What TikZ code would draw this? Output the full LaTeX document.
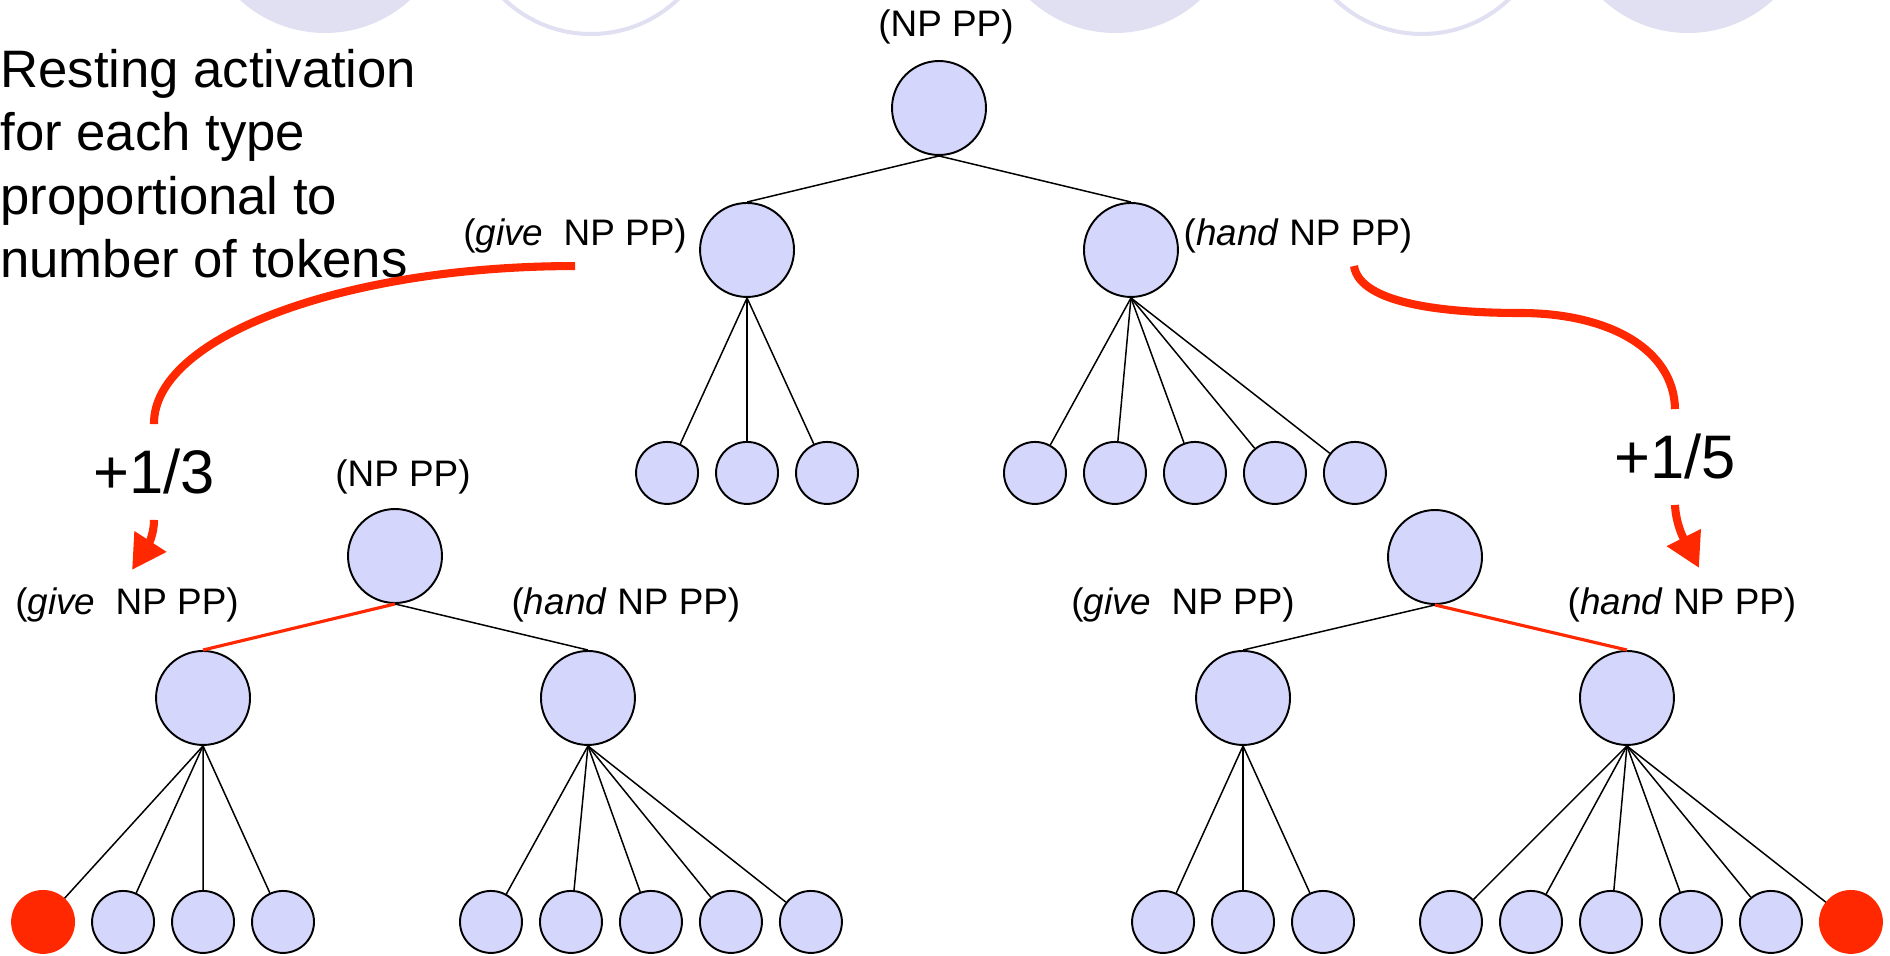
\documentclass[tikz,border=0pt]{standalone}
\usepackage{fontspec}
\setmainfont{Liberation Sans}
\usetikzlibrary{positioning,arrows.meta}

\definecolor{lav}{RGB}{213,214,251}
\definecolor{hotred}{RGB}{255,40,0}
\definecolor{ghost}{RGB}{224,224,242}

\tikzset{
  unit/.style={circle, draw, fill=lav, line width=1.1pt, inner sep=0pt, minimum size=1.88cm},
  leaf/.style={unit, minimum size=1.24cm},
  hotleaf/.style={leaf, draw=hotred, fill=hotred},
  lab/.style={inner sep=0.25cm, font=\fontsize{21}{25}\selectfont},
  gain/.style={inner sep=0.5cm, font=\fontsize{35}{42}\selectfont},
  link/.style={line width=0.85pt},
  hot/.style={draw=hotred, line width=1.8pt},
  flow/.style={draw=hotred, line width=4.6pt},
}

\begin{document}
\begin{tikzpicture}[x=0.02cm, y=-0.02cm, on grid, node distance=1.6cm]
  \useasboundingbox (0,0) rectangle (1890,956);

  % faded units along the top edge
  \fill[ghost] (325,-93) circle (126);
  \fill[ghost] (1115,-93) circle (126);
  \fill[ghost] (1688,-93) circle (126);
  \draw[ghost, line width=2.3pt] (591,-92) circle (126);
  \draw[ghost, line width=2.3pt] (1422,-92) circle (126);

  \node[anchor=north west, inner sep=0pt, align=left, font=\fontsize{30}{36}\selectfont] (note) at (0,49)
    {Resting activation\\for each type\\proportional to\\number of tokens};

  % top tree
  \node[lab] (tnp) at (946,27) {(NP PP)};
  \node[unit] (t) at (939,108) {};
  \node[unit, below left=2.84cm and 3.84cm of t] (tg) {};
  \node[unit, below right=2.84cm and 3.84cm of t] (th) {};
  \node[leaf, below left=4.46cm and 1.6cm of tg] (tg1) {};
  \node[leaf, right=of tg1] (tg2) {};
  \node[leaf, right=of tg2] (tg3) {};
  \node[leaf, below left=4.46cm and 1.92cm of th] (th1) {};
  \node[leaf, right=of th1] (th2) {};
  \node[leaf, right=of th2] (th3) {};
  \node[leaf, right=of th3] (th4) {};
  \node[leaf, right=of th4] (th5) {};
  \node[lab] (tgive) at (575,236) {(\textit{give}\ \ NP PP)};
  \node[lab] (thand) at (1298,236) {(\textit{hand} NP PP)};

  % after give
  \node[lab] (anp) at (403,477) {(NP PP)};
  \node[unit] (a) at (395,556) {};
  \node[unit, below left=2.84cm and 3.84cm of a] (ag) {};
  \node[unit, below right=2.84cm and 3.86cm of a] (ah) {};
  \node[hotleaf, below left=4.48cm and 3.2cm of ag] (ag1) {};
  \node[leaf, right=of ag1] (ag2) {};
  \node[leaf, right=of ag2] (ag3) {};
  \node[leaf, right=of ag3] (ag4) {};
  \node[leaf, below left=4.48cm and 1.94cm of ah] (ah1) {};
  \node[leaf, right=of ah1] (ah2) {};
  \node[leaf, right=of ah2] (ah3) {};
  \node[leaf, right=of ah3] (ah4) {};
  \node[leaf, right=of ah4] (ah5) {};
  \node[lab] (agive) at (127,605) {(\textit{give}\ \ NP PP)};
  \node[lab] (ahand) at (626,605) {(\textit{hand} NP PP)};

  % after hand
  \node[unit] (b) at (1435,557) {};
  \node[unit, below left=2.82cm and 3.84cm of b] (bg) {};
  \node[unit, below right=2.82cm and 3.84cm of b] (bh) {};
  \node[leaf, below left=4.48cm and 1.6cm of bg] (bg1) {};
  \node[leaf, right=of bg1] (bg2) {};
  \node[leaf, right=of bg2] (bg3) {};
  \node[leaf, below left=4.48cm and 3.52cm of bh] (bh1) {};
  \node[leaf, right=of bh1] (bh2) {};
  \node[leaf, right=of bh2] (bh3) {};
  \node[leaf, right=of bh3] (bh4) {};
  \node[leaf, right=of bh4] (bh5) {};
  \node[hotleaf, right=of bh5] (bh6) {};
  \node[lab] (bgive) at (1183,605) {(\textit{give}\ \ NP PP)};
  \node[lab] (bhand) at (1682,605) {(\textit{hand} NP PP)};

  \path[link]
    (t.south) edge (tg.north) edge (th.north)
    (tg.south) edge (tg1) edge (tg2) edge (tg3)
    (th.south) edge (th1) edge (th2) edge (th3) edge (th4) edge (th5)
    (a.south) edge[hot] (ag.north) edge (ah.north)
    (ag.south) edge (ag1) edge (ag2) edge (ag3) edge (ag4)
    (ah.south) edge (ah1) edge (ah2) edge (ah3) edge (ah4) edge (ah5)
    (b.south) edge (bg.north) edge[hot] (bh.north)
    (bg.south) edge (bg1) edge (bg2) edge (bg3)
    (bh.south) edge (bh1) edge (bh2) edge (bh3) edge (bh4) edge (bh5) edge (bh6);

  % activation boosts
  \node[gain] (p3) at (154,472) {+1/3};
  \node[gain] (p5) at (1675,457) {+1/5};
  \draw[flow] (tgive.south) .. controls (344,266) and (153,337) .. (p3.north);
  \draw[flow, -{Triangle[length=0.68cm, width=0.72cm]}]
    (p3.south) .. controls (154,540) and (143,553) .. ([shift={(5,-5)}]agive.north);
  \draw[flow] (thand.south) ++(56,0) .. controls (1360,305) and (1450,313) .. (1520,313)
    .. controls (1610,313) and (1674,350) .. (p5.north);
  \draw[flow, -{Triangle[length=0.68cm, width=0.72cm]}]
    (p5.south) .. controls (1676,530) and (1690,550) .. ([shift={(17,-7)}]bhand.north);
\end{tikzpicture}
\end{document}
